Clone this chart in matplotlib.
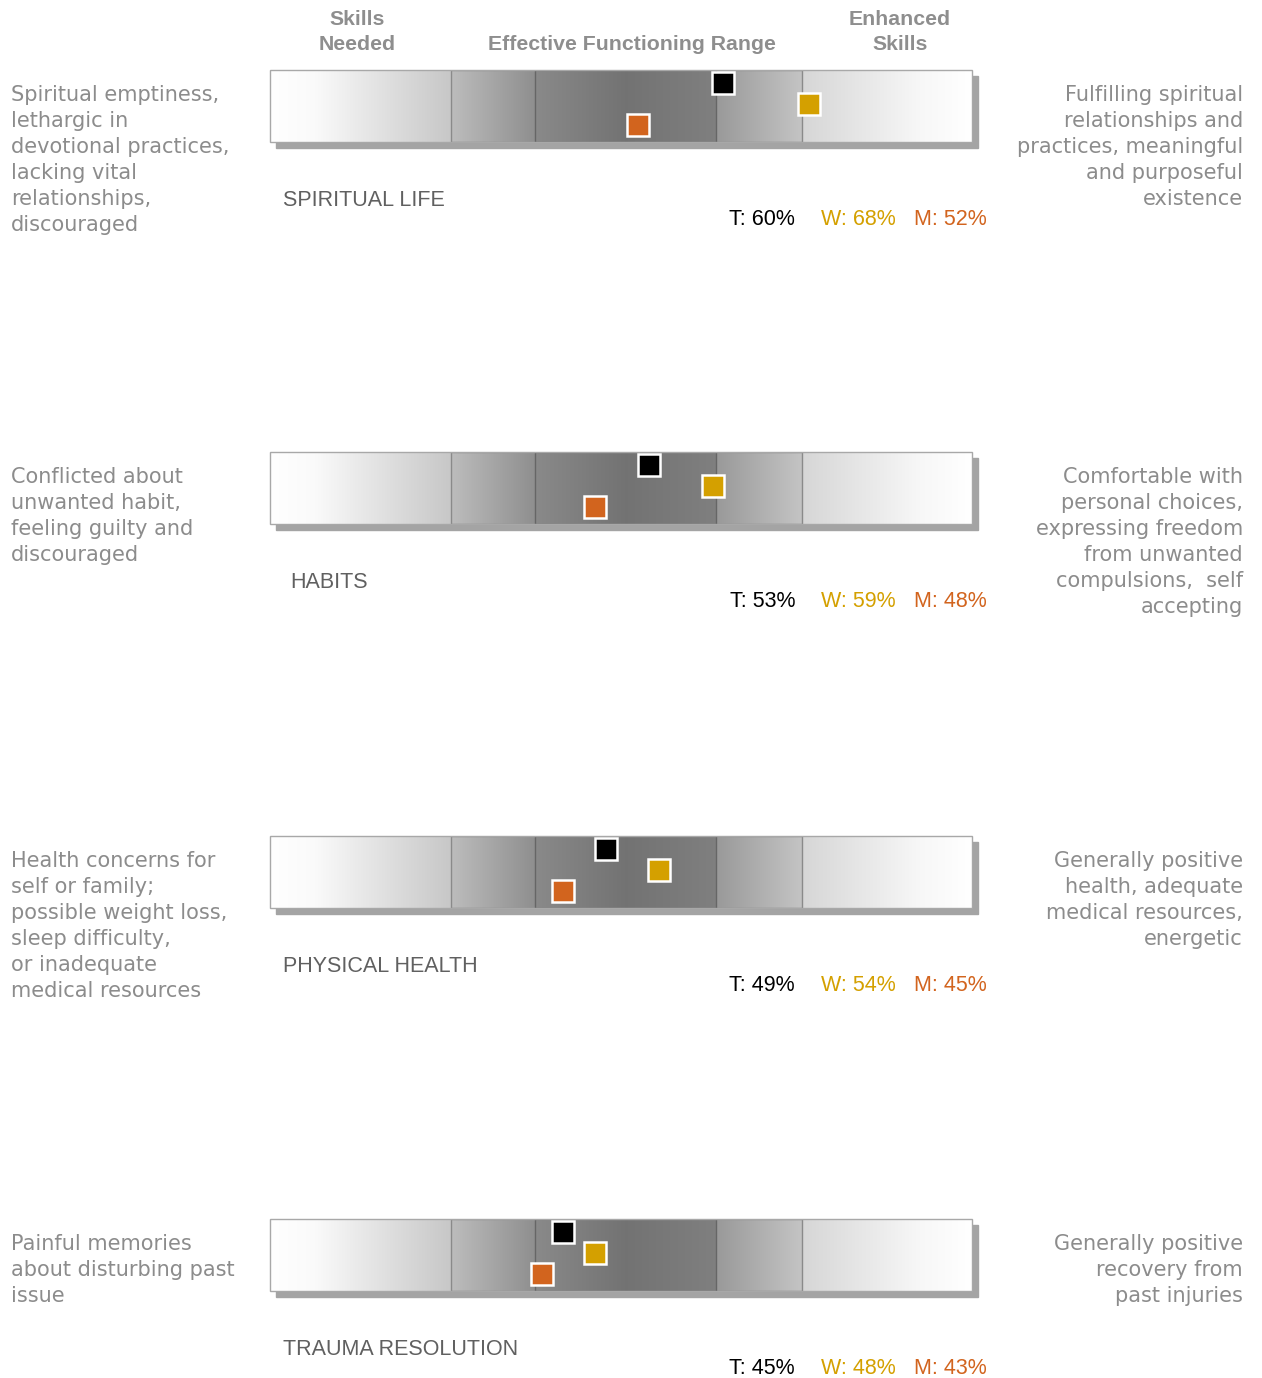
import matplotlib.pyplot as plt
import numpy as np
from matplotlib.patches import Rectangle

W, H = 1262, 1378

areas = ['SPIRITUAL LIFE', 'HABITS', 'PHYSICAL HEALTH', 'TRAUMA RESOLUTION']
total = [60, 53, 49, 45]
women = [68, 59, 54, 48]
men = [52, 48, 45, 43]

low_text = [
    'Spiritual emptiness,\nlethargic in\ndevotional practices,\nlacking vital\nrelationships,\ndiscouraged',
    'Conflicted about\nunwanted habit,\nfeeling guilty and\ndiscouraged',
    'Health concerns for\nself or family;\npossible weight loss,\nsleep difficulty,\nor inadequate\nmedical resources',
    'Painful memories\nabout disturbing past\nissue',
]
high_text = [
    'Fulfilling spiritual\nrelationships and\npractices, meaningful\nand purposeful\nexistence',
    'Comfortable with\npersonal choices,\nexpressing freedom\nfrom unwanted\ncompulsions,  self\naccepting',
    'Generally positive\nhealth, adequate\nmedical resources,\nenergetic',
    'Generally positive\nrecovery from\npast injuries',
]

# scale in percent and the zone edges along it
scale_lo, scale_hi = 17.5, 83.3
zones = [17.5, 34.5, 42.3, 59.3, 67.4, 83.3]
# grey levels (position within zone 0..1, level) for each zone's gradient
zone_shades = [
    [(0, 1.0), (0.25, 0.98), (1, 0.78)],
    [(0, 0.74), (1, 0.56)],
    [(0, 0.54), (0.5, 0.45), (1, 0.50)],
    [(0, 0.60), (1, 0.77)],
    [(0, 0.84), (0.7, 0.97), (1, 1.0)],
]

c_t, c_w, c_m = '#000000', '#D4A000', '#D2641E'
bar_tops = [70, 452, 836, 1219]
bar_h = 72
px_per_pct = 702 / (scale_hi - scale_lo)

fig = plt.figure(figsize=(W / 100, H / 100), dpi=100)


def fx(px):
    return px / W


def fy(py):
    return 1 - py / H


def lines(x, y0, text, step, **kw):
    # one text per line so the line pitch is exact
    for j, s in enumerate(text.split('\n')):
        fig.text(fx(x), fy(y0 + step * j), s, va='baseline', **kw)


arial = 'Liberation Sans'

# column headers
hdr = dict(color='#8e8e8e', fontsize=15.3, fontweight='bold', ha='center', family=arial)
lines(357, 25, 'Skills\nNeeded', 25, **hdr)
lines(632, 50, 'Effective Functioning Range', 25, **hdr)
lines(900, 25, 'Enhanced\nSkills', 25, **hdr)

for i, top in enumerate(bar_tops):
    ax = fig.add_axes([fx(270), fy(top + bar_h), 702 / W, bar_h / H])
    ax.set_xlim(scale_lo, scale_hi)
    ax.set_ylim(0, 1)
    ax.axis('off')

    # drop shadow
    ax.add_patch(Rectangle((scale_lo + 6 / px_per_pct, -6 / bar_h), scale_hi - scale_lo, 1,
                           color='#a4a4a4', clip_on=False, zorder=0.5))

    for z in range(5):
        x0, x1 = zones[z], zones[z + 1]
        pos = np.linspace(0, 1, 256)
        stops = zone_shades[z]
        g = np.interp(pos, [s[0] for s in stops], [s[1] for s in stops])
        img = np.repeat(g[None, :, None], 3, axis=2)
        ax.imshow(img, extent=(x0, x1, 0, 1), aspect='auto', interpolation='bilinear', zorder=1)

    ax.add_patch(Rectangle((zones[1], 0), zones[4] - zones[1], 1, fill=False,
                           ec='#8a8a8a', lw=1, zorder=2))
    ax.add_patch(Rectangle((zones[2], 0), zones[3] - zones[2], 1, fill=False,
                           ec='#666666', lw=1, zorder=2))
    ax.add_patch(Rectangle((scale_lo, 0), scale_hi - scale_lo, 1, fill=False,
                           ec='#a8a8a8', lw=1, zorder=2, clip_on=False))

    mk = dict(marker='s', ms=16.5, mec='white', mew=1.8, clip_on=False, zorder=5, ls='none')
    ax.plot([total[i]], [0.82], mfc=c_t, **mk)
    ax.plot([women[i]], [0.53], mfc=c_w, **mk)
    ax.plot([men[i]], [0.24], mfc=c_m, **mk)

    # area name and scores
    lx = 290 if areas[i] == 'HABITS' else 283
    fig.text(fx(lx), fy(top + 136), areas[i], color='#606060', fontsize=15.5,
             family=arial, ha='left', va='baseline')
    sy = fy(top + 155)
    fig.text(fx(795), sy, 'T: %d%%' % total[i], color=c_t, fontsize=15.5,
             family=arial, ha='right', va='baseline')
    fig.text(fx(896), sy, 'W: %d%%' % women[i], color=c_w, fontsize=15.5,
             family=arial, ha='right', va='baseline')
    fig.text(fx(987), sy, 'M: %d%%' % men[i], color=c_m, fontsize=15.5,
             family=arial, ha='right', va='baseline')

    desc = dict(color='#8c8c8c', fontsize=15, family='DejaVu Sans')
    lines(11, top + 31, low_text[i], 26, ha='left', **desc)
    lines(1243, top + 31, high_text[i], 26, ha='right', **desc)

fig.savefig('out.png', dpi=100, facecolor='white')
